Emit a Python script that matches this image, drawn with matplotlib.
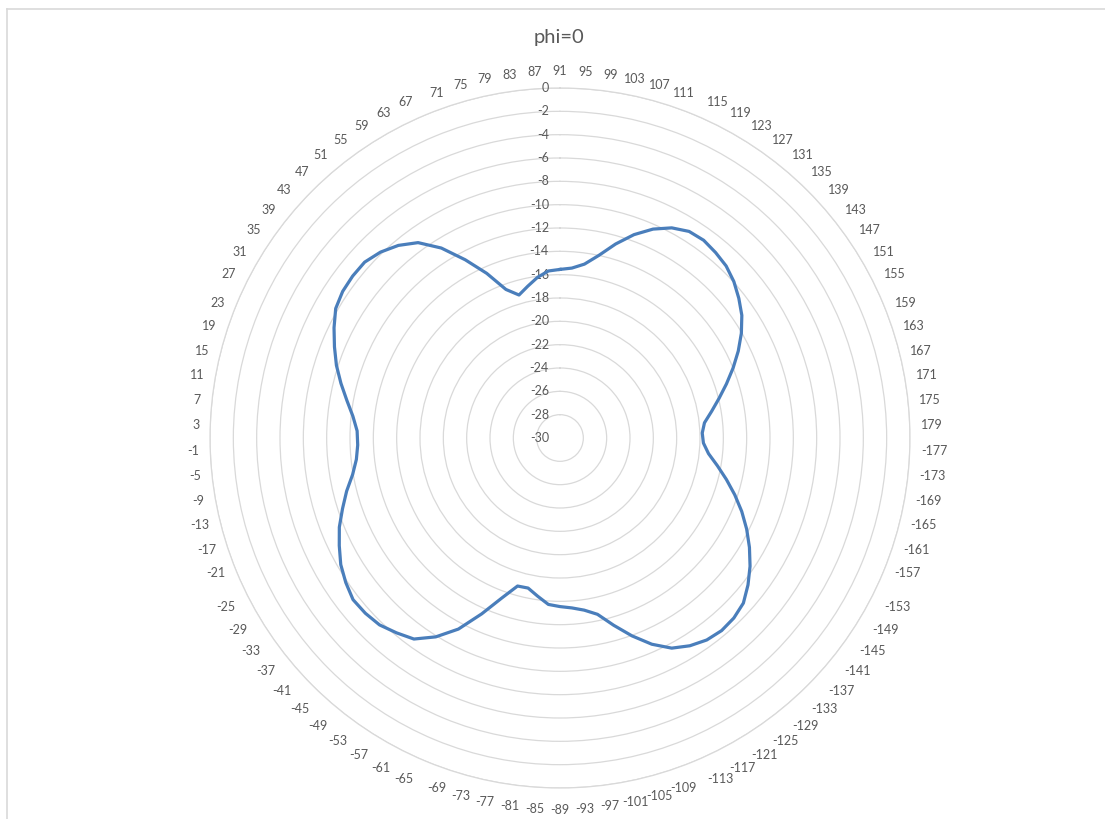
import numpy as np
import matplotlib
matplotlib.use("Agg")
import matplotlib.pyplot as plt
from matplotlib.transforms import offset_copy
from matplotlib.lines import Line2D

# ---- data ----
# category labels (degrees), one every 4 degrees, clockwise from the top
angle_labels = [91, 95, 99, 103, 107, 111, 115, 119, 123, 127, 131, 135, 139, 143,
                147, 151, 155, 159, 163, 167, 171, 175, 179, -177, -173, -169, -165,
                -161, -157, -153, -149, -145, -141, -137, -133, -129, -125, -121,
                -117, -113, -109, -105, -101, -97, -93, -89, -85, -81, -77, -73, -69,
                -65, -61, -57, -53, -49, -45, -41, -37, -33, -29, -25, -21, -17, -13,
                -9, -5, -1, 3, 7, 11, 15, 19, 23, 27, 31, 35, 39, 43, 47, 51, 55, 59,
                63, 67, 71, 75, 79, 83, 87]

gain_db = [-15.55, -15.4, -14.95, -14.0, -12.7, -11.45, -10.4, -9.6, -9.12, -9.05,
           -9.25, -9.5, -9.95, -10.55, -11.2, -12.05, -13.0, -14.0, -15.0, -15.95,
           -16.8, -17.55, -17.8, -17.7, -17.2, -16.3, -15.3, -14.25, -13.2, -12.2,
           -11.25, -10.35, -9.55, -8.85, -8.55, -8.45, -8.6, -9.0, -9.6, -10.65,
           -11.95, -13.3, -14.55, -15.1, -15.4, -15.55, -15.7, -16.3, -16.85, -16.8,
           -15.4, -13.5, -11.45, -9.9, -8.7, -8.2, -7.73, -7.55, -7.49, -7.85,
           -8.3, -8.95, -9.6, -10.4, -11.15, -11.95, -12.45, -12.65, -12.6, -12.15,
           -11.45, -10.65, -9.85, -9.15, -8.45, -7.8, -7.53, -7.45, -7.47, -7.85,
           -8.45, -9.3, -10.8, -12.7, -14.55, -16.45, -17.25, -16.7, -16.1, -15.65]

r_ticks = list(range(-30, 1, 2))
title = "phi=0"

# ---- figure ----
W, H, DPI = 1105, 819, 100
fig = plt.figure(figsize=(W / DPI, H / DPI), dpi=DPI)
fig.patch.set_facecolor("white")

# chart-area border (only top/left visible in the reference)
fig.add_artist(Line2D([7 / W, 7 / W], [1 - 8.5 / H, -0.1], transform=fig.transFigure,
                      color="#d9d9d9", lw=1.2))
fig.add_artist(Line2D([7 / W, 1.1], [1 - 8.5 / H, 1 - 8.5 / H], transform=fig.transFigure,
                      color="#d9d9d9", lw=1.2))

cx, cy, R = 560, 438, 350
ax = fig.add_axes([(cx - R) / W, (H - cy - R) / H, 2 * R / W, 2 * R / H], projection="polar")
ax.set_theta_zero_location("N")
ax.set_theta_direction(-1)
ax.set_ylim(-30, 0)
ax.set_yticks(r_ticks)
ax.set_yticklabels([])
ax.set_xticks([])
ax.xaxis.grid(False)
ax.yaxis.grid(True, color="#d9d9d9", lw=0.9)
ax.spines["polar"].set_color("#d9d9d9")
ax.spines["polar"].set_linewidth(0.9)
ax.set_facecolor("none")

N = len(angle_labels)
theta = np.arange(N) * 2 * np.pi / N
vals = np.array(gain_db)
ax.plot(np.append(theta, theta[0]), np.append(vals, vals[0]), color="#4A7EBB", lw=2.3,
        solid_joinstyle="round", zorder=5)

font = "Lato"
tcol = "#595959"

# radial labels
for r in r_ticks:
    tr = offset_copy(ax.transData, fig=fig, x=-11, y=0, units="dots")
    ax.text(0, r, str(r), transform=tr, ha="right", va="center", fontsize=9,
            color=tcol, family=font, clip_on=False)

# category labels
gap = 11
for t, lab in zip(theta, angle_labels):
    s, c = np.sin(t), np.cos(t)
    ha = "left" if s > 0.4 else ("right" if s < -0.4 else "center")
    va = "bottom" if c > 0.4 else ("top" if c < -0.4 else "center")
    extra = 5 if va == "top" else 0
    tr = offset_copy(ax.transData, fig=fig, x=gap * s, y=gap * c - extra, units="dots")
    ax.text(t, 0, str(lab), transform=tr, ha=ha, va=va, fontsize=9, color=tcol,
            family=font, clip_on=False)

fig.text(559 / W, 1 - 37 / H, title, ha="center", va="center", fontsize=14.5,
         color=tcol, family=font)

fig.savefig("out.png", dpi=DPI)
